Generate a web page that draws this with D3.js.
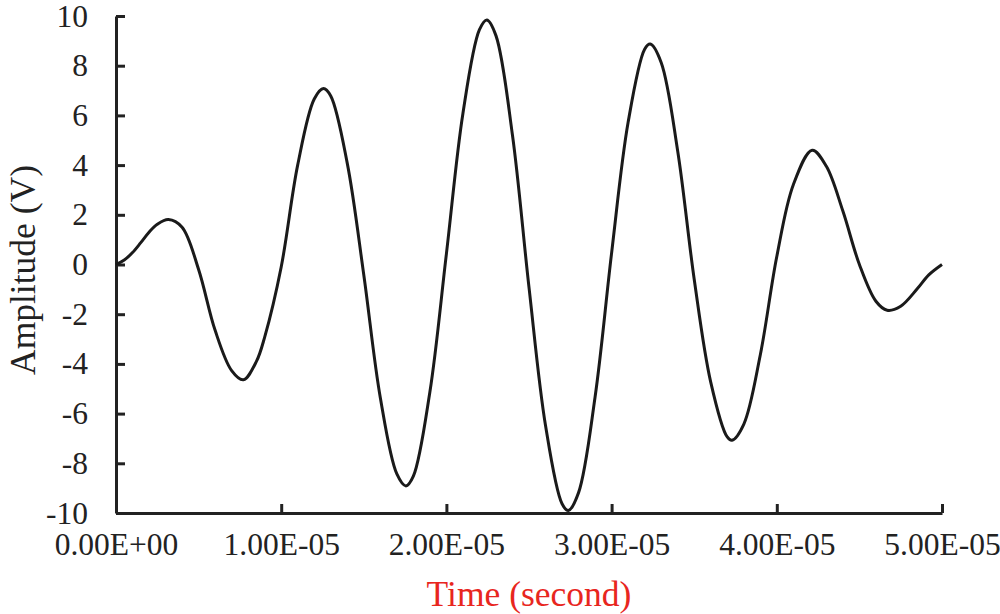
<!DOCTYPE html>
<html>
<head>
<meta charset="utf-8">
<script src="https://d3js.org/d3.v7.min.js"></script>
<style>
  body { margin: 0; background: #fff; }
  text { font-family: "Liberation Serif", "Times New Roman", serif; }
</style>
</head>
<body>
<svg width="1000" height="614"></svg>
<script>

// time in units of 1e-5 s
const timeUnits = [0, 0.05, 0.1, 0.15, 0.2, 0.25, 0.317, 0.4, 0.5, 0.6, 0.7, 0.771,
  0.85, 0.9, 1.0, 1.1, 1.2, 1.256, 1.3, 1.4, 1.5, 1.6,
  1.7, 1.755, 1.8, 1.9, 2.0, 2.1, 2.2, 2.245, 2.3, 2.4,
  2.5, 2.6, 2.7, 2.738, 2.8, 2.9, 3.0, 3.1, 3.2, 3.234,
  3.3, 3.4, 3.5, 3.6, 3.7, 3.729, 3.8, 3.9, 4.0, 4.1,
  4.214, 4.3, 4.4, 4.5, 4.6, 4.668, 4.75, 4.85, 4.92, 5.0];
const amplitude = [0, 0.18, 0.48, 0.88, 1.3, 1.62, 1.81, 1.5, -0.2, -2.65, -4.27, -4.64,
  -3.9, -2.92, -0.1, 4.01, 6.66, 7.08, 6.78, 4.07, -0.42, -5.36,
  -8.43, -8.91, -8.52, -5.13, 0.43, 6.08, 9.45, 9.84, 9.21, 5.2,
  -0.92, -6.48, -9.63, -9.9, -9.18, -5.33, 0.46, 5.72, 8.66, 8.87,
  8.13, 4.57, -0.59, -4.73, -6.94, -7.07, -6.43, -3.64, 0.32, 3.21,
  4.6, 3.95, 2.15, 0, -1.48, -1.84, -1.68, -0.98, -0.42, 0];

const xTicks = [0, 1e-5, 2e-5, 3e-5, 4e-5, 5e-5];
const xTickLabels = ["0.00E+00", "1.00E-05", "2.00E-05", "3.00E-05", "4.00E-05", "5.00E-05"];
const yTicks = [-10, -8, -6, -4, -2, 0, 2, 4, 6, 8, 10];
const yTickLabels = ["-10", "-8", "-6", "-4", "-2", "0", "2", "4", "6", "8", "10"];

const data = timeUnits.map((t, i) => ({time: t * 1e-5, value: amplitude[i]}));

const margin = {top: 16, left: 116, right: 58, bottom: 101};
const svg = d3.select("svg");
const width = 1000 - margin.left - margin.right;
const height = 614 - margin.top - margin.bottom;

const xScale = d3.scaleLinear().domain([0, 5e-5]).range([0, width]);
const yScale = d3.scaleLinear().domain([-10, 10]).range([height, 0]);

const g = svg.append("g")
  .attr("transform", `translate(${margin.left},${margin.top})`);

const xAxis = d3.axisBottom(xScale)
  .tickValues(xTicks)
  .tickFormat((d, i) => xTickLabels[i])
  .tickSizeInner(-9)
  .tickSizeOuter(0)
  .tickPadding(20);

const yAxis = d3.axisLeft(yScale)
  .tickValues(yTicks)
  .tickFormat((d, i) => yTickLabels[i])
  .tickSizeInner(-9)
  .tickSizeOuter(0)
  .tickPadding(28);

const xg = g.append("g")
  .attr("class", "xAxis")
  .attr("transform", `translate(0,${height})`)
  .call(xAxis);

const yg = g.append("g")
  .attr("class", "yAxis")
  .call(yAxis);

[xg, yg].forEach(a => {
  a.select(".domain").attr("stroke", "#222").attr("stroke-width", 3);
  a.selectAll(".tick line").attr("stroke", "#222").attr("stroke-width", 3);
  a.selectAll(".tick text")
    .attr("fill", "#222")
    .style("font-size", "31.5px")
    .style("font-family", '"Liberation Serif", "Times New Roman", serif');
});

const line = d3.line()
  .x(d => xScale(d.time))
  .y(d => yScale(d.value))
  .curve(d3.curveCatmullRom.alpha(0.5));

g.append("path")
  .datum(data)
  .attr("fill", "none")
  .attr("stroke", "#1a1a1a")
  .attr("stroke-width", 3)
  .attr("d", line);

svg.append("text")
  .text("Time (second)")
  .attr("x", margin.left + width / 2)
  .attr("y", 606)
  .attr("text-anchor", "middle")
  .attr("fill", "#e8261e")
  .style("font-size", "35.5px");

svg.append("text")
  .text("Amplitude (V)")
  .attr("transform", "translate(35,270) rotate(-90)")
  .attr("text-anchor", "middle")
  .attr("fill", "#222")
  .style("font-size", "35.5px");

</script>
</body>
</html>
